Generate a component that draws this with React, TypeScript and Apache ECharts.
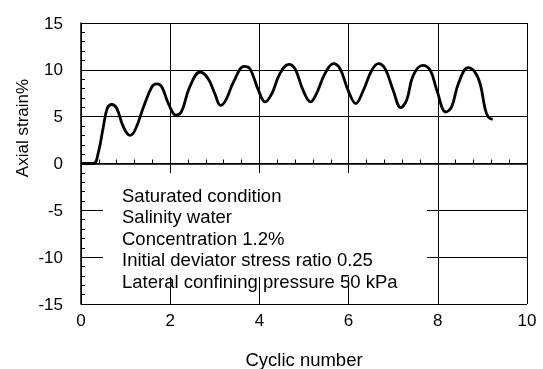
import React, { useEffect, useRef } from "react";
import * as echarts from "echarts";

const cycles = [
  0, 0.28, 0.39, 0.5, 0.59, 0.69, 0.8, 0.95, 1.1, 1.21, 1.4, 1.59, 1.7, 1.81, 1.96, 2.13,
  2.25, 2.44, 2.67, 2.85, 3.0, 3.13, 3.25, 3.42, 3.66, 3.79, 3.98, 4.13, 4.28, 4.46, 4.66,
  4.8, 4.98, 5.15, 5.28, 5.47, 5.66, 5.81, 5.99, 6.16, 6.33, 6.52, 6.67, 6.82, 7.0, 7.17,
  7.3, 7.45, 7.66, 7.83, 7.98, 8.18, 8.31, 8.46, 8.68, 8.83, 8.95, 9.06, 9.13, 9.23,
];
const strain = [
  0, 0, 1.2, 3.9, 5.9, 6.3, 5.9, 3.9, 3.0, 3.55, 6.0, 8.2, 8.5, 8.2, 6.4, 5.15,
  5.5, 8.2, 9.77, 9.06, 7.46, 6.2, 6.8, 8.7, 10.37, 10.1, 7.8, 6.57, 7.46, 9.6, 10.59,
  10.1, 7.8, 6.57, 7.46, 9.6, 10.66, 10.1, 7.8, 6.4, 7.8, 9.95, 10.66, 10.1, 7.8, 5.97,
  6.75, 9.4, 10.48, 9.95, 7.8, 5.5, 6.04, 8.5, 10.23, 9.77, 8.5, 5.86, 4.97, 4.72,
];
const notes = [
  "Saturated condition",
  "Salinity water",
  "Concentration 1.2%",
  "Initial deviator stress ratio 0.25",
  "Lateral confining pressure 50 kPa",
];
const xTitle = "Cyclic number";
const yTitle = "Axial strain%";

const FONT = "Arial, 'Liberation Sans', sans-serif";

export default function App() {
  const ref = useRef<HTMLDivElement>(null);
  useEffect(() => {
    if (!ref.current) return;
    const chart = echarts.init(ref.current, null, { renderer: "svg" });
    const data = cycles.map((c, i) => [c, strain[i]]);
    chart.setOption({
      animation: false,
      textStyle: { fontFamily: FONT },
      grid: {
        left: 81,
        right: 16,
        top: 23,
        bottom: 65,
        containLabel: false,
        outerBoundsMode: "none",
      },
      xAxis: {
        type: "value",
        min: 0,
        max: 10,
        interval: 2,
        name: xTitle,
        nameLocation: "middle",
        nameGap: 46,
        nameTextStyle: { fontSize: 18.5, color: "#000", fontFamily: FONT },
        axisLine: { lineStyle: { color: "#000", width: 1.5 } },
        axisTick: { show: true, inside: true, length: 5, lineStyle: { color: "#000" } },
        minorTick: { show: true, splitNumber: 5, length: 4, lineStyle: { color: "#000" } },
        axisLabel: { fontSize: 17, color: "#000", margin: 8, fontFamily: FONT },
        splitLine: { show: true, lineStyle: { color: "#000", width: 1 } },
      },
      yAxis: {
        type: "value",
        min: -15,
        max: 15,
        interval: 5,
        axisLine: { lineStyle: { color: "#000", width: 1.5 } },
        axisTick: { show: true, inside: true, length: 5, lineStyle: { color: "#000" } },
        minorTick: { show: true, splitNumber: 5, length: 4, lineStyle: { color: "#000" } },
        axisLabel: { fontSize: 17, color: "#000", margin: 18, fontFamily: FONT },
        splitLine: { show: true, lineStyle: { color: "#000", width: 1 } },
      },
      graphic: [
        {
          type: "rect",
          z: 10,
          shape: { x: 103, y: 173, width: 324, height: 104 },
          style: { fill: "#fff" },
        },
        ...notes.map((t, i) => ({
          type: "text",
          z: 11,
          x: 122,
          y: 195 + i * 21.5,
          style: {
            text: t,
            fontSize: 18.5,
            fontFamily: FONT,
            fill: "#000",
            align: "left",
            verticalAlign: "middle",
          },
        })),
        {
          type: "text",
          z: 11,
          x: 22,
          y: 128,
          rotation: Math.PI / 2,
          style: {
            text: yTitle,
            fontSize: 17,
            fontFamily: FONT,
            fill: "#000",
            align: "center",
            verticalAlign: "middle",
          },
        },
      ],
      series: [
        {
          type: "line",
          data,
          smooth: 0.4,
          showSymbol: false,
          symbol: "none",
          lineStyle: { color: "#000", width: 2.8 },
          z: 5,
        },
      ],
    });
    return () => chart.dispose();
  }, []);
  return (
    <div
      ref={ref}
      style={{ position: "fixed", left: 0, top: 0, width: 543, height: 369 }}
    />
  );
}
